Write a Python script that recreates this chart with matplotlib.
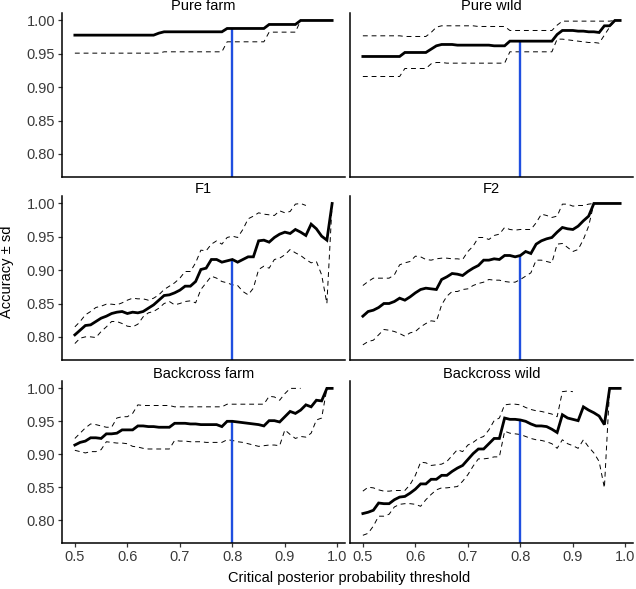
import numpy as np
import matplotlib.pyplot as plt

plt.rcParams['font.family'] = ['Liberation Sans', 'DejaVu Sans']

nan = np.nan

# posterior probability thresholds (x axis)
threshold = np.round(np.arange(0.50, 1.00, 0.01), 2)
cutoff = 0.8

panels = ['Pure farm', 'Pure wild', 'F1', 'F2', 'Backcross farm', 'Backcross wild']

# mean accuracy, upper (mean + sd) and lower (mean - sd) per panel
pure_farm_mean = [0.978] * 16 + [0.981] + [0.983] * 12 + [0.988] * 8 + [0.994] * 6 + [1.0] * 7
pure_farm_upper = [nan] * 43 + [1.0] * 7
pure_farm_lower = [0.951] * 17 + [0.953] * 12 + [0.968] * 8 + [0.9825] * 6 + [1.0] * 7

pure_wild_mean = ([0.946] * 8 + [0.952] * 5 + [0.957, 0.962, 0.964]
                  + [0.964, 0.964, 0.963, 0.963, 0.963, 0.963, 0.963, 0.963, 0.963, 0.962, 0.962, 0.962]
                  + [0.969] * 9 + [0.979, 0.985]
                  + [0.985, 0.985, 0.984, 0.984, 0.983, 0.983, 0.982]
                  + [0.992, 0.992] + [1.0, 1.0])
pure_wild_upper = ([0.977] * 8 + [0.976] * 5 + [0.982, 0.990, 0.992] + [0.992] * 6 + [0.991] * 6
                   + [0.985] * 9 + [0.993] + [0.999] * 10 + [1.0] * 2)
pure_wild_lower = ([0.916] * 8 + [0.928] * 5 + [0.935, 0.937, 0.937] + [0.936] * 12 + [0.953] * 9
                   + [0.972, 0.972, 0.971, 0.970, 0.969, 0.968, 0.967, 0.967, 0.966]
                   + [0.978, 0.990] + [1.0, 1.0])

f1_mean = [0.803, 0.810, 0.817, 0.818, 0.823, 0.828, 0.831, 0.835, 0.837, 0.838,
           0.835, 0.837, 0.836, 0.838, 0.843, 0.848, 0.855, 0.862, 0.863, 0.866,
           0.870, 0.876, 0.876, 0.883, 0.901, 0.903, 0.916, 0.916, 0.912, 0.914,
           0.916, 0.912, 0.916, 0.920, 0.920, 0.944, 0.945, 0.942, 0.949, 0.954,
           0.957, 0.955, 0.961, 0.957, 0.952, 0.969, 0.962, 0.951, 0.945, 1.0]
f1_upper = [0.815, 0.823, 0.833, 0.838, 0.844, 0.846, 0.849, 0.849, 0.848, 0.851,
            0.855, 0.858, 0.857, 0.857, 0.855, 0.858, 0.863, 0.871, 0.876, 0.881,
            0.888, 0.898, 0.898, 0.911, 0.930, 0.929, 0.939, 0.944, 0.939, 0.949,
            0.951, 0.949, 0.961, 0.977, 0.981, 0.986, 0.984, 0.983, 0.982, 0.989,
            0.986, 0.988, 0.999, 1.0, 0.997, nan, nan, nan, nan, 1.0]
f1_lower = [0.790, 0.798, 0.800, 0.800, 0.799, 0.808, 0.815, 0.823, 0.823, 0.820,
            0.816, 0.815, 0.819, 0.830, 0.836, 0.838, 0.843, 0.850, 0.853, 0.848,
            0.850, 0.853, 0.854, 0.851, 0.871, 0.881, 0.891, 0.888, 0.883, 0.881,
            0.878, 0.877, 0.868, 0.863, 0.873, 0.901, 0.906, 0.903, 0.916, 0.918,
            0.923, 0.931, 0.926, 0.922, 0.916, 0.911, 0.913, 0.893, 0.850, 1.0]

f2_mean = [0.831, 0.838, 0.840, 0.844, 0.850, 0.850, 0.853, 0.858, 0.855, 0.860,
           0.866, 0.871, 0.873, 0.872, 0.871, 0.886, 0.890, 0.895, 0.894, 0.892,
           0.898, 0.903, 0.907, 0.915, 0.915, 0.917, 0.916, 0.922, 0.922, 0.920,
           0.922, 0.928, 0.925, 0.939, 0.944, 0.947, 0.949, 0.957, 0.964, 0.962,
           0.961, 0.966, 0.974, 0.981, 1.0, 1.0, 1.0, 1.0, 1.0, 1.0]
f2_upper = [0.877, 0.883, 0.888, 0.888, 0.888, 0.888, 0.893, 0.908, 0.911, 0.913,
            0.921, 0.920, 0.916, 0.915, 0.917, 0.918, 0.918, 0.917, 0.917, 0.916,
            0.928, 0.936, 0.949, 0.949, 0.946, 0.952, 0.954, 0.964, 0.961, 0.960,
            0.961, 0.961, 0.961, 0.971, 0.984, 0.982, 0.979, 0.981, 0.999, 0.999,
            0.996, 0.997, 0.997, 0.999, 1.0, 1.0, 1.0, 1.0, 1.0, 1.0]
f2_lower = [0.788, 0.793, 0.795, 0.803, 0.811, 0.810, 0.808, 0.805, 0.801, 0.806,
            0.808, 0.815, 0.820, 0.824, 0.823, 0.848, 0.861, 0.868, 0.868, 0.871,
            0.872, 0.877, 0.880, 0.882, 0.886, 0.885, 0.885, 0.883, 0.882, 0.882,
            0.886, 0.891, 0.896, 0.915, 0.915, 0.913, 0.911, 0.939, 0.940, 0.934,
            0.928, 0.931, 0.946, 0.966, 1.0, 1.0, 1.0, 1.0, 1.0, 1.0]

bc_farm_mean = [0.914, 0.918, 0.920, 0.925, 0.925, 0.924, 0.931, 0.931, 0.932, 0.937,
                0.937, 0.937, 0.943, 0.943, 0.942, 0.942, 0.941, 0.941, 0.941, 0.947,
                0.947, 0.947, 0.946, 0.946, 0.945, 0.945, 0.945, 0.945, 0.942, 0.950,
                0.950, 0.949, 0.948, 0.947, 0.946, 0.945, 0.943, 0.951, 0.951, 0.949,
                0.957, 0.965, 0.962, 0.967, 0.975, 0.972, 0.982, 0.981, 1.0, 1.0]
bc_farm_upper = [0.924, 0.932, 0.940, 0.946, 0.945, 0.943, 0.941, 0.941, 0.955, 0.957,
                 0.957, 0.962, 0.975, 0.974, 0.974, 0.974, 0.974, 0.974, 0.974, 0.972,
                 0.972, 0.972, 0.972, 0.972, 0.972, 0.972, 0.972, 0.972, 0.972, 0.976,
                 0.976, 0.976, 0.976, 0.976, 0.976, 0.976, 0.976, 0.988, 0.987, 0.982,
                 0.992, 1.0, 1.0, 1.0, nan, nan, nan, nan, nan, 1.0]
bc_farm_lower = [0.906, 0.904, 0.902, 0.904, 0.904, 0.907, 0.919, 0.918, 0.917, 0.917,
                 0.916, 0.912, 0.911, 0.909, 0.908, 0.908, 0.908, 0.908, 0.908, 0.921,
                 0.920, 0.920, 0.919, 0.919, 0.919, 0.918, 0.918, 0.918, 0.918, 0.922,
                 0.921, 0.919, 0.918, 0.916, 0.914, 0.912, 0.913, 0.914, 0.914, 0.913,
                 0.937, 0.930, 0.924, 0.927, 0.926, 0.932, 0.952, 0.955, 1.0, 1.0]

bc_wild_mean = [0.810, 0.812, 0.815, 0.826, 0.825, 0.825, 0.831, 0.835, 0.836, 0.841,
                0.847, 0.855, 0.855, 0.862, 0.862, 0.868, 0.868, 0.874, 0.879, 0.883,
                0.892, 0.901, 0.908, 0.908, 0.916, 0.924, 0.924, 0.955, 0.953, 0.953,
                0.952, 0.950, 0.946, 0.943, 0.943, 0.942, 0.938, 0.933, 0.960, 0.955,
                0.953, 0.951, 0.972, 0.967, 0.963, 0.958, 0.945, 1.0, 1.0, 1.0]
bc_wild_upper = [0.844, 0.850, 0.849, 0.846, 0.844, 0.844, 0.845, 0.845, 0.845, 0.854,
                 0.868, 0.888, 0.887, 0.883, 0.884, 0.885, 0.889, 0.898, 0.907, 0.904,
                 0.914, 0.918, 0.924, 0.927, 0.937, 0.951, 0.955, 0.975, 0.976, 0.976,
                 0.975, 0.971, 0.968, 0.966, 0.965, 0.963, 0.961, 0.957, 0.995, 0.996,
                 0.995, nan, nan, nan, nan, nan, nan, 1.0, 1.0, 1.0]
bc_wild_lower = [0.777, 0.780, 0.791, 0.806, 0.806, 0.809, 0.820, 0.824, 0.825, 0.825,
                 0.824, 0.821, 0.831, 0.839, 0.846, 0.849, 0.849, 0.850, 0.851, 0.859,
                 0.869, 0.882, 0.893, 0.893, 0.894, 0.896, 0.896, 0.935, 0.932, 0.931,
                 0.930, 0.927, 0.924, 0.922, 0.921, 0.919, 0.916, 0.909, 0.922, 0.916,
                 0.913, 0.909, 0.922, 0.911, 0.902, 0.889, 0.849, 1.0, 1.0, 1.0]

means = [pure_farm_mean, pure_wild_mean, f1_mean, f2_mean, bc_farm_mean, bc_wild_mean]
uppers = [pure_farm_upper, pure_wild_upper, f1_upper, f2_upper, bc_farm_upper, bc_wild_upper]
lowers = [pure_farm_lower, pure_wild_lower, f1_lower, f2_lower, bc_farm_lower, bc_wild_lower]

W, H = 636, 589
fig = plt.figure(figsize=(W / 100, H / 100), dpi=100)

col_left = [62, 350]
panel_w = 283
row_top = [13, 196, 381]
row_bot = [177, 360, 543]

ylo, yhi = 0.7653, 1.0112
k = int(np.argmin(np.abs(threshold - cutoff)))
tick_col = '#3a3a3a'

for i, name in enumerate(panels):
    r, c = divmod(i, 2)
    ax = fig.add_axes([col_left[c] / W, 1 - row_bot[r] / H,
                       panel_w / W, (row_bot[r] - row_top[r]) / H])
    ax.plot(threshold, uppers[i], color='black', lw=0.7, ls=(0, (5, 4)))
    ax.plot(threshold, lowers[i], color='black', lw=0.7, ls=(0, (5, 4)))
    ax.vlines(cutoff, ylo, means[i][k], color='#1f4fe0', lw=1.7)
    ax.plot(threshold, means[i], color='black', lw=2.0, solid_joinstyle='miter')

    ax.set_xlim(0.4755, 1.0145)
    ax.set_ylim(ylo, yhi)
    for s in ['top', 'right']:
        ax.spines[s].set_visible(False)
    for s in ['left', 'bottom']:
        ax.spines[s].set_linewidth(1.1)
    ax.set_xticks([0.5, 0.6, 0.7, 0.8, 0.9, 1.0])
    ax.set_xticklabels(['0.5', '0.6', '0.7', '0.8', '0.9', '1.0'])
    ax.set_yticks([0.80, 0.85, 0.90, 0.95, 1.00])
    ax.set_yticklabels(['0.80', '0.85', '0.90', '0.95', '1.00'])
    ax.tick_params(labelsize=10.5, labelcolor=tick_col, color='#333333',
                   length=3, width=0.9, pad=2)
    if c == 1:
        ax.tick_params(axis='y', left=False, labelleft=False)
    if r < 2:
        ax.tick_params(axis='x', bottom=False, labelbottom=False)
    ax.set_title(name, fontsize=10.5, pad=1.5)

fig.text(7 / W, 1 - 272 / H, 'Accuracy ± sd', rotation=90,
         ha='center', va='center', fontsize=10.5)
fig.text(349 / W, 1 - 578 / H, 'Critical posterior probability threshold',
         ha='center', va='center', fontsize=10.5)

plt.savefig('out.png', dpi=100)
